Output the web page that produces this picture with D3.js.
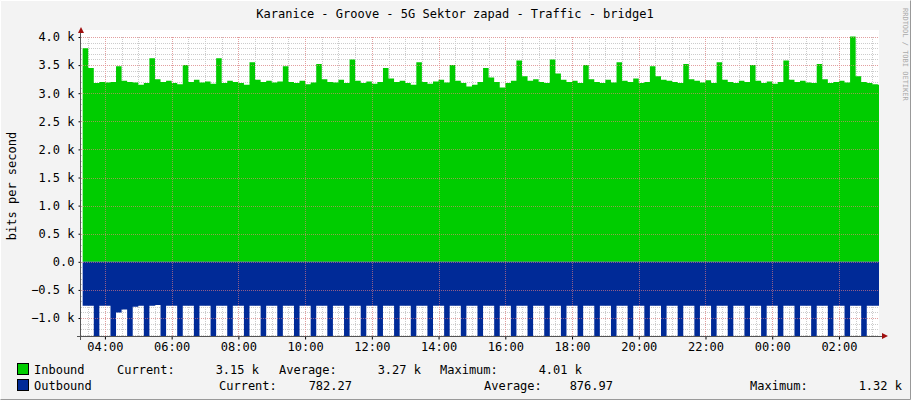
<!DOCTYPE html>
<html><head><meta charset="utf-8">
<script src="https://cdn.jsdelivr.net/npm/d3@7"></script>
<style>
body{margin:0;background:#f3f3f3;}
text{font-family:"DejaVu Sans Mono",monospace;font-size:12px;fill:#000;}
</style></head><body>
<script>
// 10 minute samples starting 03:20
var startTime = new Date(2020, 0, 1, 3, 20);
var inbound = [
 3.80,3.45,3.18,3.20,3.19,3.20, 3.48,3.22,3.20,3.19,3.15,3.18,
 3.62,3.25,3.20,3.22,3.18,3.16, 3.50,3.20,3.24,3.19,3.21,3.17,
 3.62,3.18,3.22,3.20,3.18,3.15, 3.55,3.24,3.20,3.22,3.19,3.21,
 3.48,3.20,3.18,3.22,3.16,3.19, 3.52,3.25,3.20,3.19,3.24,3.18,
 3.60,3.22,3.18,3.21,3.17,3.20, 3.45,3.26,3.20,3.22,3.18,3.15,
 3.55,3.20,3.17,3.21,3.24,3.19, 3.50,3.22,3.18,3.12,3.15,3.20,
 3.45,3.28,3.20,3.10,3.18,3.22, 3.58,3.30,3.22,3.25,3.20,3.18,
 3.60,3.35,3.24,3.20,3.22,3.18, 3.50,3.25,3.20,3.18,3.24,3.19,
 3.55,3.22,3.20,3.26,3.18,3.20, 3.48,3.30,3.24,3.22,3.20,3.18,
 3.52,3.25,3.22,3.19,3.23,3.18, 3.55,3.24,3.20,3.18,3.22,3.20,
 3.50,3.22,3.18,3.21,3.17,3.20, 3.58,3.24,3.20,3.22,3.19,3.18,
 3.52,3.25,3.18,3.20,3.22,3.19, 4.01,3.30,3.20,3.18,3.16,3.15
];
var outbound = [
 0.78,0.78,1.32,0.78,0.78,1.32, 0.90,0.85,1.32,0.80,0.78,1.32,
 0.78,0.77,1.32,0.78,0.78,1.32, 0.78,0.78,1.32,0.78,0.78,1.32,
 0.78,0.78,1.32,0.78,0.78,1.32, 0.78,0.78,1.32,0.78,0.78,1.32,
 0.78,0.78,1.32,0.78,0.78,1.32, 0.78,0.78,1.32,0.78,0.78,1.32,
 0.78,0.78,1.32,0.78,0.78,1.32, 0.78,0.78,1.32,0.78,0.78,1.32,
 0.78,0.78,1.32,0.78,0.78,1.32, 0.78,0.78,1.32,0.78,0.78,1.32,
 0.78,0.78,1.32,0.78,0.78,1.32, 0.78,0.78,1.32,0.78,0.78,1.32,
 0.78,0.78,1.32,0.78,0.78,1.32, 0.78,0.78,1.32,0.78,0.78,1.32,
 0.78,0.78,1.32,0.78,0.78,1.32, 0.78,0.78,1.32,0.78,0.78,1.32,
 0.78,0.78,1.32,0.78,0.78,1.32, 0.78,0.78,1.32,0.78,0.78,1.32,
 0.78,0.78,1.32,0.78,0.78,1.32, 0.78,0.78,1.32,0.78,0.78,1.32,
 0.78,0.78,1.32,0.78,0.78,1.32, 0.78,0.78,1.32,0.78,0.78,0.78
];
var yTicks = [4.0,3.5,3.0,2.5,2.0,1.5,1.0,0.5,0.0,-0.5,-1.0];
var legendIn = ["Inbound","Current:","3.15 k","Average:","3.27 k","Maximum:","4.01 k"];
var legendOut = ["Outbound","Current:","782.27","Average:","876.97","Maximum:","1.32 k"];

var width = 911, height = 400;
var pLeft = 81, pRight = 879, pTop = 37, pBottom = 336;

var svg = d3.select("body").append("svg")
    .attr("width", width)
    .attr("height", height);

svg.append("rect").attr("width", width).attr("height", height).attr("fill", "#f3f3f3");
// border
svg.append("path").attr("d","M0.5,399.5V0.5H910.5").attr("stroke","#fff").attr("fill","none");
svg.append("path").attr("d","M910.5,0.5V399.5H0.5").attr("stroke","#999").attr("fill","none");

var x = d3.scaleTime()
    .domain([new Date(2020,0,1,3,17), new Date(2020,0,2,3,12)])
    .range([pLeft, pRight]);
var y = d3.scaleLinear().domain([-1.32, 4.0]).range([pBottom, pTop]);

svg.append("rect").attr("x", pLeft).attr("y", pTop - 7).attr("width", pRight - pLeft)
    .attr("height", pBottom - pTop + 7).attr("fill", "#fff");

var times = inbound.map(function(d, i){ return new Date(+startTime + i * 600000); });
var lastT = new Date(2020,0,2,3,12);

svg.append("clipPath").attr("id","clip").append("rect")
    .attr("x", pLeft).attr("y", pTop - 10).attr("width", pRight - pLeft).attr("height", pBottom - pTop + 10);

// minor grid
var grid = svg.append("g");
var minorY = d3.range(-13, 41).map(function(v){ return v / 10; });
grid.selectAll(".my").data(minorY).enter().append("line")
    .attr("x1", pLeft).attr("x2", pRight)
    .attr("y1", function(d){ return Math.round(y(d)) + 0.5; })
    .attr("y2", function(d){ return Math.round(y(d)) + 0.5; })
    .attr("stroke", "#ccc").attr("stroke-dasharray", "1,1");
var minorX = d3.timeMinute.every(30).range(x.domain()[0], x.domain()[1]);
grid.selectAll(".mx").data(minorX).enter().append("line")
    .attr("y1", pTop).attr("y2", pBottom)
    .attr("x1", function(d){ return Math.round(x(d)) + 0.5; })
    .attr("x2", function(d){ return Math.round(x(d)) + 0.5; })
    .attr("stroke", "#ccc").attr("stroke-dasharray", "1,1");

function tx(d, i){ return x(i < times.length ? times[i] : lastT); }

svg.append("path").datum(inbound.concat([inbound[inbound.length-1]]))
    .attr("clip-path","url(#clip)")
    .attr("d", d3.area().curve(d3.curveStepAfter)
        .x(tx).y0(y(0)).y1(function(d){ return y(d); }))
    .attr("fill", "#00cc00");
svg.append("path").datum(outbound.concat([outbound[outbound.length-1]]))
    .attr("clip-path","url(#clip)")
    .attr("d", d3.area().curve(d3.curveStepAfter)
        .x(tx).y0(y(0)).y1(function(d){ return y(-d); }))
    .attr("fill", "#002a97");

// major grid on top
grid = svg.append("g");
grid.selectAll(".My").data(yTicks).enter().append("line")
    .attr("x1", pLeft).attr("x2", pRight)
    .attr("y1", function(d){ return Math.round(y(d)) + 0.5; })
    .attr("y2", function(d){ return Math.round(y(d)) + 0.5; })
    .attr("stroke", "#f08080").attr("stroke-opacity", 0.6).attr("stroke-dasharray", "1,1");
var majorX = d3.timeHour.every(2).range(x.domain()[0], x.domain()[1]);
grid.selectAll(".Mx").data(majorX).enter().append("line")
    .attr("y1", pTop).attr("y2", pBottom)
    .attr("x1", function(d){ return Math.round(x(d)) + 0.5; })
    .attr("x2", function(d){ return Math.round(x(d)) + 0.5; })
    .attr("stroke", "#f08080").attr("stroke-opacity", 0.6).attr("stroke-dasharray", "1,1");

// axes
var yAxis = d3.axisLeft(y).tickValues(yTicks).tickSize(2)
    .tickFormat(function(d){ return d === 0 ? "0.0" : d3.format(".1f")(d) + " k"; });
var gy = svg.append("g").attr("transform", "translate(" + (pLeft - 0.5) + ",0)").call(yAxis);
gy.select(".domain").remove();
gy.selectAll("text").attr("x", -6).attr("font-size", 12).style("font-family", "DejaVu Sans Mono");

var xAxis = d3.axisBottom(x).ticks(d3.timeHour.every(2)).tickSize(3)
    .tickFormat(d3.timeFormat("%H:%M"));
var gx = svg.append("g").attr("transform", "translate(0," + (pBottom + 0.5) + ")").call(xAxis);
gx.select(".domain").remove();
gx.selectAll("text").attr("y", 6).attr("font-size", 12).style("font-family", "DejaVu Sans Mono");

svg.append("line").attr("x1", pLeft - 0.5).attr("x2", pLeft - 0.5).attr("y1", pBottom + 4).attr("y2", pTop - 8)
    .attr("stroke", "#555");
svg.append("line").attr("x1", pLeft - 4).attr("x2", pRight + 4).attr("y1", pBottom + 0.5).attr("y2", pBottom + 0.5)
    .attr("stroke", "#555");
svg.append("path").attr("d", "M78,33L81,27L84,33Z").attr("fill", "#a01010");
svg.append("path").attr("d", "M882,333L888,336L882,339Z").attr("fill", "#a01010");

svg.append("text").attr("x", 455).attr("y", 18).attr("text-anchor", "middle")
    .text("Karanice - Groove - 5G Sektor zapad - Traffic - bridge1");
svg.append("text").attr("transform", "translate(16,186) rotate(-90)").attr("text-anchor", "middle")
    .text("bits per second");
svg.append("text").attr("transform", "translate(903,8) rotate(90)")
    .style("font-size", "7px").style("fill", "#aaa").text("RRDTOOL / TOBI OETIKER");

// legend
function legendRow(items, color, yy, xs, anchors){
    svg.append("rect").attr("x", 17.5).attr("y", yy - 10.5).attr("width", 11).attr("height", 11)
        .attr("fill", color).attr("stroke", "#000");
    items.forEach(function(t, i){
        svg.append("text").attr("x", xs[i]).attr("y", yy).attr("text-anchor", anchors[i]).text(t);
    });
}
var anch = ["start","start","end","start","end","start","end"];
legendRow(legendIn, "#00cc00", 374, [34,117,259,279,421,440,582], anch);
legendRow(legendOut, "#002a97", 390, [34,219,352,484,613,750,902], anch);
</script>
</body></html>
